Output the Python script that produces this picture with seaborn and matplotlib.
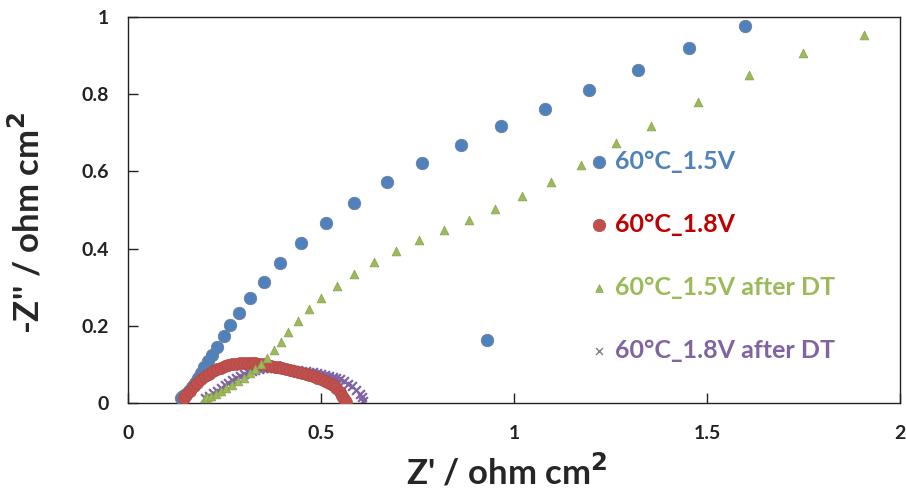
import pandas as pd
import matplotlib
matplotlib.use('Agg')
import matplotlib.pyplot as plt
import seaborn as sns
from matplotlib.ticker import FuncFormatter

# Nyquist data (Z' and -Z'' in ohm cm2)
z_re_15 = [0.137, 0.143, 0.150, 0.158, 0.166, 0.174, 0.182, 0.190, 0.198, 0.208, 0.218, 0.230,
           0.249, 0.264, 0.288, 0.316, 0.352, 0.394, 0.448, 0.513, 0.586, 0.671, 0.762, 0.863,
           0.966, 1.080, 1.194, 1.321, 1.453, 1.598, 0.930]
z_im_15 = [0.012, 0.017, 0.024, 0.032, 0.042, 0.053, 0.065, 0.078, 0.092, 0.108, 0.125, 0.145,
           0.174, 0.202, 0.234, 0.271, 0.314, 0.362, 0.414, 0.466, 0.518, 0.572, 0.622, 0.668,
           0.718, 0.762, 0.811, 0.863, 0.920, 0.977, 0.163]

z_re_18 = [0.145, 0.150, 0.160, 0.170, 0.180, 0.190, 0.200, 0.210, 0.220, 0.230, 0.240, 0.250,
           0.260, 0.270, 0.280, 0.290, 0.300, 0.310, 0.320, 0.330, 0.340, 0.350, 0.360, 0.370,
           0.380, 0.390, 0.400, 0.410, 0.420, 0.430, 0.440, 0.450, 0.460, 0.470, 0.480, 0.490,
           0.500, 0.510, 0.520, 0.530, 0.540, 0.550, 0.555, 0.560, 0.565]
z_im_18 = [0.012, 0.020, 0.032, 0.043, 0.053, 0.062, 0.069, 0.076, 0.082, 0.087, 0.091, 0.095,
           0.098, 0.100, 0.102, 0.103, 0.104, 0.104, 0.104, 0.103, 0.102, 0.100, 0.098, 0.096,
           0.094, 0.092, 0.090, 0.088, 0.086, 0.083, 0.081, 0.078, 0.075, 0.072, 0.069, 0.066,
           0.062, 0.057, 0.052, 0.046, 0.038, 0.029, 0.019, 0.010, 0.003]

z_re_15dt = [0.200, 0.205, 0.215, 0.227, 0.240, 0.255, 0.270, 0.285, 0.300, 0.315, 0.330, 0.345,
             0.360, 0.378, 0.396, 0.415, 0.440, 0.469, 0.500, 0.541, 0.585, 0.637, 0.694, 0.754,
             0.818, 0.883, 0.951, 1.021, 1.096, 1.174, 1.264, 1.355, 1.476, 1.609, 1.749, 1.907]
z_im_15dt = [0.014, 0.015, 0.018, 0.024, 0.030, 0.038, 0.047, 0.056, 0.066, 0.077, 0.088, 0.100,
             0.116, 0.137, 0.158, 0.184, 0.212, 0.243, 0.272, 0.303, 0.334, 0.365, 0.394, 0.422,
             0.448, 0.474, 0.503, 0.536, 0.573, 0.617, 0.674, 0.718, 0.780, 0.849, 0.906, 0.953]

z_re_18dt = [0.200, 0.210, 0.220, 0.230, 0.240, 0.250, 0.260, 0.270, 0.280, 0.290, 0.300, 0.310,
             0.320, 0.330, 0.340, 0.350, 0.360, 0.370, 0.380, 0.390, 0.400, 0.410, 0.420, 0.430,
             0.440, 0.450, 0.460, 0.470, 0.480, 0.490, 0.500, 0.510, 0.520, 0.530, 0.540, 0.550,
             0.560, 0.570, 0.580, 0.590, 0.600, 0.605, 0.610]
z_im_18dt = [0.012, 0.018, 0.025, 0.032, 0.039, 0.046, 0.053, 0.059, 0.065, 0.070, 0.075, 0.079,
             0.083, 0.086, 0.088, 0.090, 0.091, 0.091, 0.091, 0.090, 0.089, 0.088, 0.087, 0.086,
             0.085, 0.083, 0.082, 0.080, 0.079, 0.077, 0.075, 0.073, 0.071, 0.068, 0.065, 0.061,
             0.056, 0.050, 0.043, 0.034, 0.024, 0.015, 0.006]

labels = ['60°C_1.5V', '60°C_1.8V', '60°C_1.5V after DT', '60°C_1.8V after DT']
marker_colors = ['#4F81BD', '#C0504D', '#9BBB59', '#8064A2']
text_colors = ['#4F81BD', '#C00000', '#9BBB59', '#8064A2']

sns.set_style('ticks')
plt.rcParams['font.family'] = ['Lato', 'DejaVu Sans']

fig = plt.figure(figsize=(9.06, 4.93), dpi=100)
ax = fig.add_axes([0.1413, 0.1826, 0.8521, 0.7829])

# draw the four series
sns.scatterplot(x=z_re_15, y=z_im_15, ax=ax, marker='o', s=80, color=marker_colors[0],
                edgecolor='#6d7f99', linewidth=0.6, label=labels[0], zorder=3)
sns.scatterplot(x=z_re_18, y=z_im_18, ax=ax, marker='o', s=75, color=marker_colors[1],
                edgecolor='#b04a47', linewidth=0.5, label=labels[1], zorder=3)
sns.scatterplot(x=z_re_15dt, y=z_im_15dt, ax=ax, marker='^', s=40, color=marker_colors[2],
                edgecolor='#8aa050', linewidth=0.5, label=labels[2], zorder=4)
sns.scatterplot(x=z_re_18dt, y=z_im_18dt, ax=ax, marker='x', s=40, color=marker_colors[3],
                linewidth=1.6, label=labels[3], zorder=2)

ax.set_xlim(0, 2)
ax.set_ylim(0, 1)
ax.set_xticks([0, 0.5, 1, 1.5, 2])
ax.set_yticks([0, 0.2, 0.4, 0.6, 0.8, 1])
fmt = FuncFormatter(lambda v, p: f'{v:g}')
ax.xaxis.set_major_formatter(fmt)
ax.yaxis.set_major_formatter(fmt)
ax.tick_params(direction='in', length=7, width=1, labelsize=14, colors='#222222')
ax.tick_params(axis='x', pad=16)
ax.tick_params(axis='y', pad=14)
for lab in ax.get_xticklabels() + ax.get_yticklabels():
    lab.set_fontweight('bold')
for sp in ax.spines.values():
    sp.set_visible(True)
    sp.set_color('#222222')
    sp.set_linewidth(1.0)

ax.set_xlabel("Z' / ohm cm$^{\\mathbf{2}}$", fontsize=25, fontweight='bold')
ax.set_ylabel("-Z'' / ohm cm$^{\\mathbf{2}}$", fontsize=25, fontweight='bold')
ax.xaxis.set_label_coords(0.49, -0.13)
ax.yaxis.set_label_coords(-0.107, 0.465)

# legend with coloured text
leg = ax.legend(loc='upper left', bbox_to_anchor=(0.565, 0.715), frameon=False,
                labelspacing=1.6, handletextpad=0.15, handlelength=1.0,
                prop={'weight': 'bold', 'size': 18})
for txt, c in zip(leg.get_texts(), text_colors):
    txt.set_color(c)
handles = leg.legend_handles
handles[0].set_sizes([80])
handles[1].set_sizes([80])
handles[2].set_sizes([30])
handles[3].set_sizes([25])
handles[3].set_color('#7f7f7f')
handles[3].set_linewidth(1.0)

fig.savefig('out.png', dpi=100)
